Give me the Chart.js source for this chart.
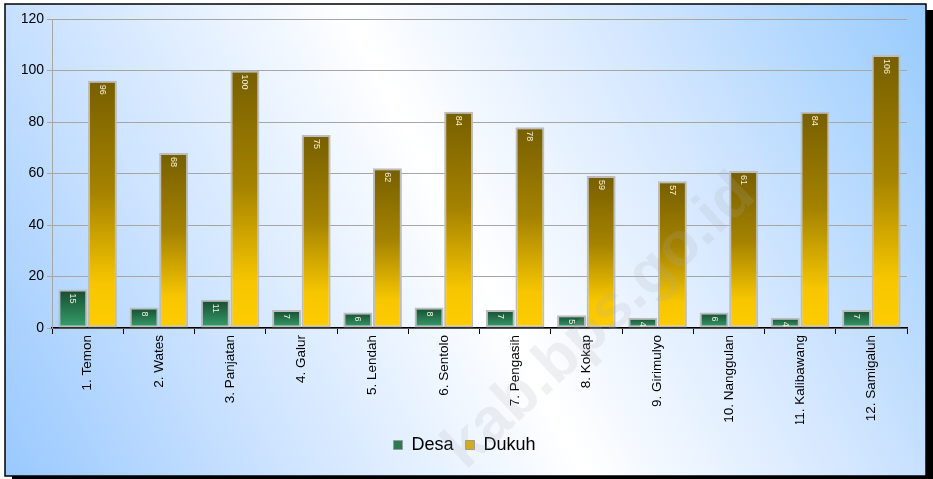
<!DOCTYPE html>
<html>
<head>
<meta charset="utf-8">
<script src="https://cdn.jsdelivr.net/npm/chart.js@4"></script>
<style>
html,body{margin:0;padding:0;background:#fff;}
#wrap{position:relative;width:933px;height:479px;}
</style>
</head>
<body>
<div id="wrap"><canvas id="c" width="933" height="479"></canvas></div>
<script>
const categories = ["1. Temon","2. Wates","3. Panjatan","4. Galur","5. Lendah","6. Sentolo","7. Pengasih","8. Kokap","9. Girimulyo","10. Nanggulan","11. Kalibawang","12. Samigaluh"];
const desa = [15, 8, 11, 7, 6, 8, 7, 5, 4, 6, 4, 7];
const dukuh = [96, 68, 100, 75, 62, 84, 78, 59, 57, 61, 84, 106];
const seriesNames = ["Desa", "Dukuh"];
const yTicks = [0, 20, 40, 60, 80, 100, 120];

const FONT = "'Liberation Sans', Arial, sans-serif";

function barGradient(stops) {
  return function (ctx) {
    const chart = ctx.chart;
    if (ctx.type !== 'data' || !chart.chartArea) return stops[stops.length - 1][1];
    const ys = chart.scales.y;
    const yTop = ys.getPixelForValue(ctx.raw);
    const yBot = ys.getPixelForValue(0);
    const g = chart.ctx.createLinearGradient(0, yTop, 0, yBot);
    stops.forEach(s => g.addColorStop(s[0], s[1]));
    return g;
  };
}

const framePlugin = {
  id: 'frame',
  beforeDraw(chart) {
    const c = chart.ctx;
    c.save();
    c.fillStyle = '#fff';
    c.fillRect(0, 0, chart.width, chart.height);
    c.fillStyle = '#000';
    c.fillRect(12, 10, 921, 469);
    const g = c.createLinearGradient(5, 476, 926, 4);
    g.addColorStop(0, '#99c9ff');
    g.addColorStop(0.22, '#c9e1ff');
    g.addColorStop(0.5, '#ffffff');
    g.addColorStop(0.72, '#d6e8ff');
    g.addColorStop(1, '#98cbfd');
    c.fillStyle = g;
    c.fillRect(5, 4, 921, 472);
    c.strokeStyle = '#000';
    c.lineWidth = 1.5;
    c.strokeRect(5, 4, 921, 472);
    c.restore();
  },
  afterDatasetsDraw(chart) {
    const c = chart.ctx;
    c.save();
    chart.data.datasets.forEach((ds, i) => {
      const meta = chart.getDatasetMeta(i);
      meta.data.forEach((bar, j) => {
        c.save();
        c.translate(bar.x, bar.y + 4);
        c.rotate(Math.PI / 2);
        c.font = '9px ' + FONT;
        c.fillStyle = '#f6f1dc';
        c.textAlign = 'left';
        c.textBaseline = 'middle';
        c.fillText(String(ds.data[j]), 0, 0);
        c.restore();
      });
    });
    c.restore();
  },
  afterDraw(chart) {
    const c = chart.ctx;
    c.save();
    c.translate(600, 322);
    c.rotate(-43 * Math.PI / 180);
    c.font = 'bold 62px ' + FONT;
    c.fillStyle = 'rgba(170,170,170,0.17)';
    c.textAlign = 'center';
    c.textBaseline = 'middle';
    c.fillText('kab.bps.go.id', 0, 0);
    c.restore();
  }
};

new Chart(document.getElementById('c'), {
  type: 'bar',
  data: {
    labels: categories,
    datasets: [
      {
        label: seriesNames[0],
        data: desa,
        backgroundColor: barGradient([[0, '#184a30'], [1, '#37a06d']]),
        borderColor: '#bdbdbd',
        borderWidth: 2,
        borderSkipped: false,
        categoryPercentage: 0.83,
        barPercentage: 0.98
      },
      {
        label: seriesNames[1],
        data: dukuh,
        backgroundColor: barGradient([[0, '#775f00'], [0.45, '#a58300'], [0.82, '#f7c600'], [1, '#ffcc00']]),
        borderColor: '#bdbdbd',
        borderWidth: 2,
        borderSkipped: false,
        categoryPercentage: 0.83,
        barPercentage: 0.98
      }
    ]
  },
  options: {
    responsive: false,
    animation: false,
    layout: { padding: { left: 22, right: 26, top: 19, bottom: 15 } },
    plugins: {
      tooltip: { enabled: false },
      legend: {
        position: 'bottom',
        labels: {
          font: { family: FONT, size: 18 },
          color: '#000',
          boxWidth: 9,
          boxHeight: 9,
          padding: 12,
          generateLabels() {
            return [
              { text: seriesNames[0], fillStyle: '#2b7a52', strokeStyle: '#9a9a9a', lineWidth: 1, datasetIndex: 0 },
              { text: seriesNames[1], fillStyle: '#d9ac00', strokeStyle: '#9a9a9a', lineWidth: 1, datasetIndex: 1 }
            ];
          }
        }
      }
    },
    scales: {
      x: {
        afterFit(s) { s.height = 96; },
        grid: { drawOnChartArea: false, drawTicks: true, tickLength: 6, color: '#000', offset: true },
        border: { color: '#000', width: 1.5 },
        ticks: {
          font: { family: FONT, size: 13.5 },
          color: '#000',
          minRotation: 90,
          maxRotation: 90,
          autoSkip: false,
          padding: 1
        }
      },
      y: {
        min: 0,
        max: 120,
        afterFit(s) { s.width = 30; },
        afterBuildTicks(s) { s.ticks = yTicks.map(v => ({ value: v })); },
        grid: { color: '#a6a6a6', tickLength: 5, lineWidth: 1 },
        border: { color: '#a6a6a6', width: 1 },
        ticks: {
          font: { family: FONT, size: 14 },
          color: '#000',
          padding: 3
        }
      }
    }
  },
  plugins: [framePlugin]
});
</script>
</body>
</html>
